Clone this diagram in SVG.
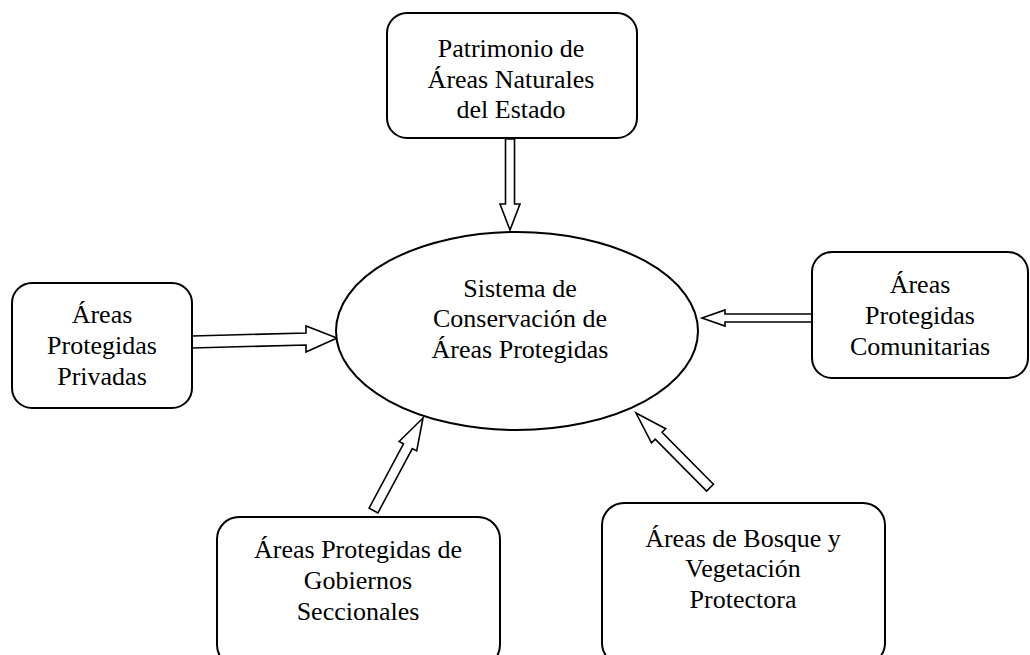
<svg xmlns="http://www.w3.org/2000/svg" width="1030" height="655" viewBox="0 0 1030 655">
<style>
.box{fill:#fff;stroke:#000;stroke-width:2}
.arr{fill:#fff;stroke:#000;stroke-width:1.6;stroke-linejoin:miter}
text{font-family:"Liberation Serif","Times New Roman",serif;font-size:26px;fill:#000;text-anchor:middle}
</style>
<rect width="1030" height="655" fill="#fff"/>
<g id="connectors">
<polygon class="arr" points="505.5,139 514.5,139 514.5,204 520,204 510,230 500,204 505.5,204"/>
<polygon class="arr" points="192,336 306,333 306,326 337,338 306,352 306,345 192,348"/>
<polygon class="arr" points="812,314 725,314 725,310 702,318 725,326 725,322 812,322"/>
<polygon class="arr" points="423,418 416.7,450.9 412.3,448.6 377.9,512.9 369.1,508.1 403.5,443.9 399.1,441.5"/>
<polygon class="arr" points="636,413 665.7,428.7 662,432.3 713.4,484.2 706.6,491 655.2,439.1 651.5,442.8"/>
</g>
<g id="center">
<ellipse class="box" cx="517" cy="331" rx="181" ry="99"/>
<text x="520" y="297">Sistema de</text>
<text x="520" y="327">Conservación de</text>
<text x="520" y="358">Áreas Protegidas</text>
</g>
<g id="top">
<rect class="box" x="387" y="13" width="250" height="125" rx="20"/>
<text x="511" y="57">Patrimonio de</text>
<text x="511" y="88">Áreas Naturales</text>
<text x="511" y="118">del Estado</text>
</g>
<g id="left">
<rect class="box" x="12" y="283" width="180" height="125" rx="20"/>
<text x="102" y="323">Áreas</text>
<text x="102" y="354">Protegidas</text>
<text x="102" y="385">Privadas</text>
</g>
<g id="right">
<rect class="box" x="812" y="252" width="216" height="126" rx="20"/>
<text x="920" y="293">Áreas</text>
<text x="920" y="324">Protegidas</text>
<text x="920" y="355">Comunitarias</text>
</g>
<g id="bottom-left">
<rect class="box" x="217" y="517" width="283" height="150" rx="22"/>
<text x="358" y="558">Áreas Protegidas de</text>
<text x="358" y="589">Gobiernos</text>
<text x="358" y="620">Seccionales</text>
</g>
<g id="bottom-right">
<rect class="box" x="602" y="503" width="283" height="162" rx="22"/>
<text x="743" y="547">Áreas de Bosque y</text>
<text x="743" y="577">Vegetación</text>
<text x="743" y="608">Protectora</text>
</g>
</svg>
